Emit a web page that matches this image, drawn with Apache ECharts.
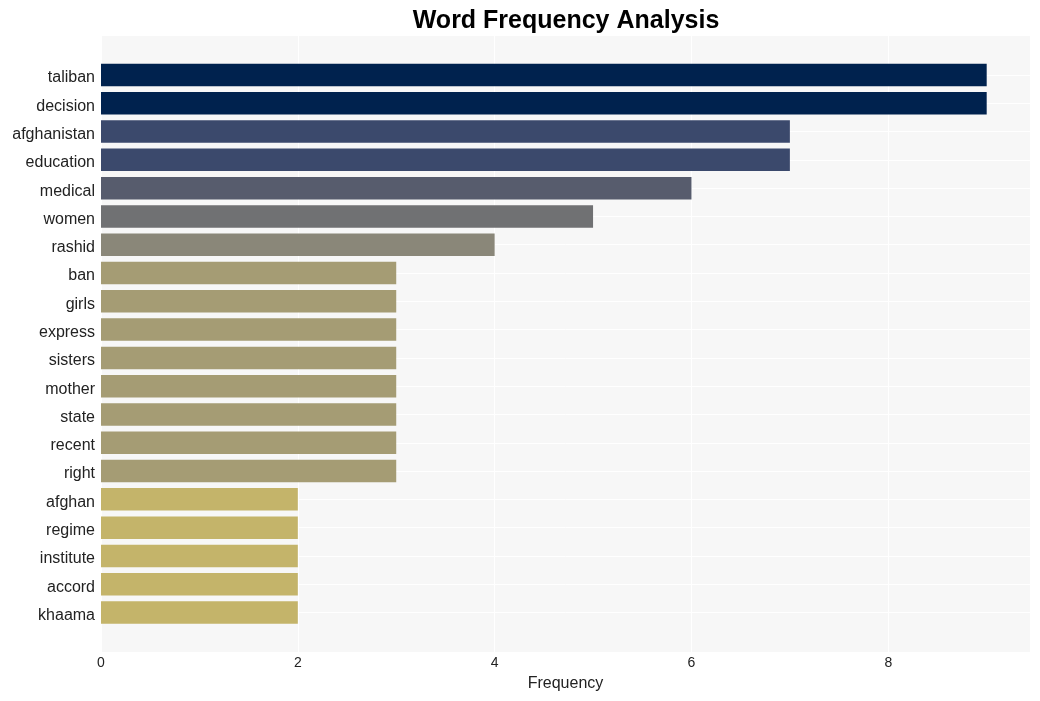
<!DOCTYPE html>
<html><head><meta charset="utf-8">
<script src="https://cdn.jsdelivr.net/npm/echarts@6/dist/echarts.min.js"></script>
<style>html,body{margin:0;padding:0;background:#fff}#c{width:1040px;height:701px}</style>
</head><body><div id="c"></div>
<script>
const categories = ['taliban','decision','afghanistan','education','medical','women','rashid','ban','girls','express','sisters','mother','state','recent','right','afghan','regime','institute','accord','khaama'];
const values = [9,9,7,7,6,5,4,3,3,3,3,3,3,3,3,2,2,2,2,2];
const colors = ['#00224e','#00224e','#3b496c','#3b496c','#575c6d','#707173','#8a8779','#a59c74','#a59c74','#a59c74','#a59c74','#a59c74','#a59c74','#a59c74','#a59c74','#c4b46a','#c4b46a','#c4b46a','#c4b46a','#c4b46a'];
const xTicks = [0,2,4,6,8];
const xMax = 9.44;

const chart = echarts.init(document.getElementById('c'));
const font = 'Liberation Sans, Arial, sans-serif';
chart.setOption({
  animation: false,
  title: {text: 'Word Frequency Analysis', left: 561, top: 4, textAlign: 'center',
    textStyle: {fontFamily: font, fontWeight: 'bold', fontSize: 25, color: '#000'}},
  grid: [
    {left: 101, right: 10, top: 36, bottom: 49, show: true, backgroundColor: '#f7f7f7', borderWidth: 0, z: 0},
    {left: 101, right: 10, top: 75, bottom: 88.5, z: 1}
  ],
  xAxis: [
    {gridIndex: 0, type: 'value', min: 0, max: xMax, interval: 2,
     axisLine: {show: false}, axisTick: {show: false},
     splitLine: {show: true, lineStyle: {color: '#ffffff', width: 1}},
     axisLabel: {fontFamily: font, fontSize: 14, color: '#222', margin: 4,
       formatter: v => xTicks.includes(v) ? String(v) : ''},
     name: 'Frequency', nameLocation: 'middle', nameGap: 24,
     nameTextStyle: {fontFamily: font, fontSize: 16, color: '#222'}},
    {gridIndex: 1, type: 'value', min: 0, max: xMax, show: false}
  ],
  yAxis: [
    {gridIndex: 0, type: 'value', show: false, min: 0, max: 1},
    {gridIndex: 1, type: 'category', data: categories, inverse: true, boundaryGap: false,
     axisLine: {show: false}, axisTick: {show: false},
     splitLine: {show: true, lineStyle: {color: '#ffffff', width: 1}},
     axisLabel: {fontFamily: font, fontSize: 16, color: '#222', margin: 6,
       formatter: v => '{a|' + v + '}',
       rich: {a: {fontFamily: font, fontSize: 16, color: '#222', padding: [6, 0, 0, 0]}}}}
  ],
  series: [{
    type: 'bar', xAxisIndex: 1, yAxisIndex: 1, clip: false, barWidth: 22.5,
    data: values.map((v, i) => ({value: v, itemStyle: {color: colors[i]}})),
    z: 3
  }]
});
</script></body></html>
